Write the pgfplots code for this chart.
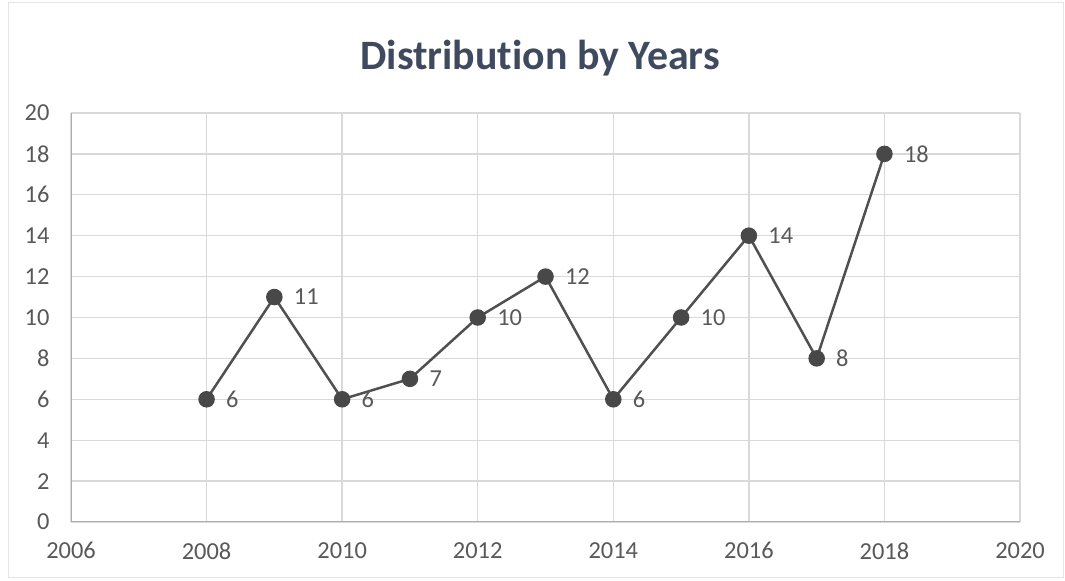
\documentclass[border=0pt]{standalone}
\usepackage{pgfplots}
\pgfplotsset{compat=1.18}
\usepackage{fontspec}
\setmainfont{Carlito}[Ligatures=NoCommon]
\definecolor{txt}{HTML}{595959}
\definecolor{ttl}{HTML}{3F4A5E}
\definecolor{grd}{HTML}{D9D9D9}
\definecolor{ln}{HTML}{505050}
\begin{document}
\begin{tikzpicture}[x=1bp,y=1bp]
\fill[white] (0,0) rectangle (1065,581);
\draw[grd!70, line width=1bp] (8,3) rectangle (1063,578);
\node[font=\fontsize{42}{48}\selectfont\bfseries, text=ttl] at (540,523) {Distribution by Years};
\begin{axis}[
  at={(71bp,59bp)}, anchor=south west,
  scale only axis, width=949bp, height=409bp,
  xmin=2006, xmax=2020, ymin=0, ymax=20,
  xtick={2006,2008,...,2020}, ytick={0,2,...,20},
  grid=major, major grid style={grd, line width=1.3bp},
  axis line style={grd!80!black, line width=1bp},
  axis x line*=bottom, axis y line*=left,
  tick style={draw=none},
  x tick label style={/pgf/number format/1000 sep={}},
  /pgf/number format/assume math mode=true,
  tick label style={font=\fontsize{24.5}{28}\selectfont, text=txt},
  xticklabel style={yshift=-17bp},
  yticklabel style={xshift=-18bp},
  clip=false,
]
\addplot[ln, line width=2.5bp, mark=*, mark size=7bp, mark options={fill=ln!90!black, draw=ln!90!black},
  nodes near coords, every node near coord/.style={anchor=west, xshift=15bp, font=\fontsize{24.5}{28}\selectfont, text=txt},
  point meta=explicit symbolic]
coordinates {
(2008,6) [6]
(2009,11) [11]
(2010,6) [6]
(2011,7) [7]
(2012,10) [10]
(2013,12) [12]
(2014,6) [6]
(2015,10) [10]
(2016,14) [14]
(2017,8) [8]
(2018,18) [18]
};
\end{axis}
\end{tikzpicture}
\end{document}
